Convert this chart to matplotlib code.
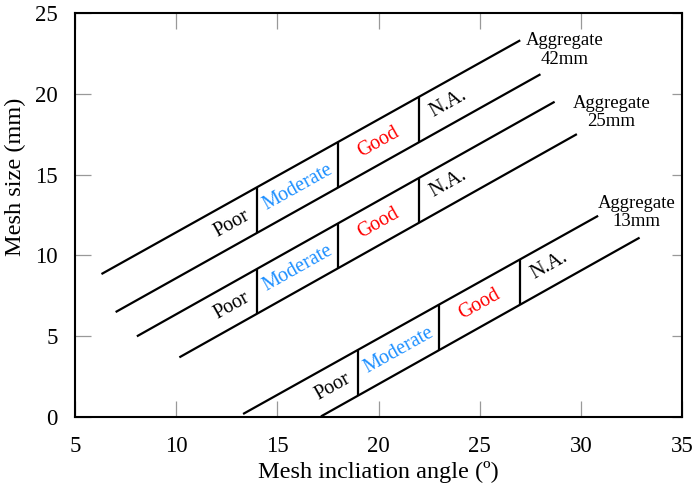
import numpy as np
import matplotlib
matplotlib.use('Agg')
import matplotlib.pyplot as plt

plt.rcParams['font.family'] = ['Liberation Serif', 'DejaVu Serif']

# band edges: [x_start, x_end], [y_start, y_end]
names = ['Aggregate\n42mm', 'Aggregate\n25mm', 'Aggregate\n13mm']
upper_x = [[6.3, 27.0], [8.05, 28.7], [13.3, 30.85]]
upper_y = [[8.85, 23.3], [5.0, 19.5], [0.2, 12.45]]
lower_x = [[7.0, 28.0], [10.15, 29.8], [17.15, 32.9]]
lower_y = [[6.5, 21.2], [3.7, 17.5], [0.05, 11.1]]

# zone boundaries (x) along each band
seps = [[14, 18, 22], [14, 18, 22], [19, 23, 27]]
zones = ['Poor', 'Moderate', 'Good', 'N.A.']
zone_colors = ['black', '#1E90FF', 'red', 'black']

name_pos = [(29.2, 22.7), (31.5, 18.85), (32.75, 12.65)]


def line_y(xs, ys, x):
    k = (ys[1] - ys[0]) / (xs[1] - xs[0])
    return ys[0] + k * (x - xs[0])


fig = plt.figure(figsize=(6.96, 4.92), dpi=100)
ax = fig.add_axes([0.108, 0.152, 0.872, 0.822])

for i in range(3):
    ux, uy = upper_x[i], upper_y[i]
    lx, ly = lower_x[i], lower_y[i]
    ax.plot(ux, uy, color='black', lw=1.6, solid_capstyle='butt')
    ax.plot(lx, ly, color='black', lw=1.6, solid_capstyle='butt')
    for s in seps[i]:
        ax.plot([s, s], [line_y(lx, ly, s), line_y(ux, uy, s)],
                color='black', lw=1.6, solid_capstyle='butt')

    ang = np.degrees(np.arctan2(uy[1] - uy[0], ux[1] - ux[0]))
    s = seps[i]
    xpos = [s[0] - 1.25, (s[0] + s[1]) / 2, (s[1] + s[2]) / 2, s[2] + 1.45]
    for z, c, xp in zip(zones, zone_colors, xpos):
        yp = (line_y(ux, uy, xp) + line_y(lx, ly, xp)) / 2
        ax.text(xp, yp, z, color=c, fontsize=14.5, rotation=ang,
                transform_rotates_text=True, rotation_mode='anchor',
                ha='center', va='center')
    ax.text(name_pos[i][0], name_pos[i][1], names[i], fontsize=13.5,
            ha='center', va='center', linespacing=1.1)

ax.set_xlim(5, 35)
ax.set_ylim(0, 25)
ax.set_xticks([5, 10, 15, 20, 25, 30, 35])
ax.set_yticks([0, 5, 10, 15, 20, 25])
ax.tick_params(direction='in', length=11.5, width=0.9, color='#999999',
               top=True, right=False, labelsize=16.5)
ax.tick_params(axis='x', pad=13.5)
ax.tick_params(axis='y', pad=12.5)
sec = ax.secondary_yaxis('right')
sec.set_yticks([0, 5, 10, 15, 20, 25])
sec.tick_params(direction='in', length=7, width=0.9, color='#999999',
                labelright=False)
sec.spines['right'].set_visible(False)
for sp in ax.spines.values():
    sp.set_linewidth(1.5)

ax.set_xlabel('Mesh incliation angle (º)', fontsize=17.5, labelpad=3)
ax.set_ylabel('Mesh size (mm)', fontsize=17.5)
ax.yaxis.set_label_coords(-0.081, 0.594)

fig.savefig('out.png', dpi=100)
